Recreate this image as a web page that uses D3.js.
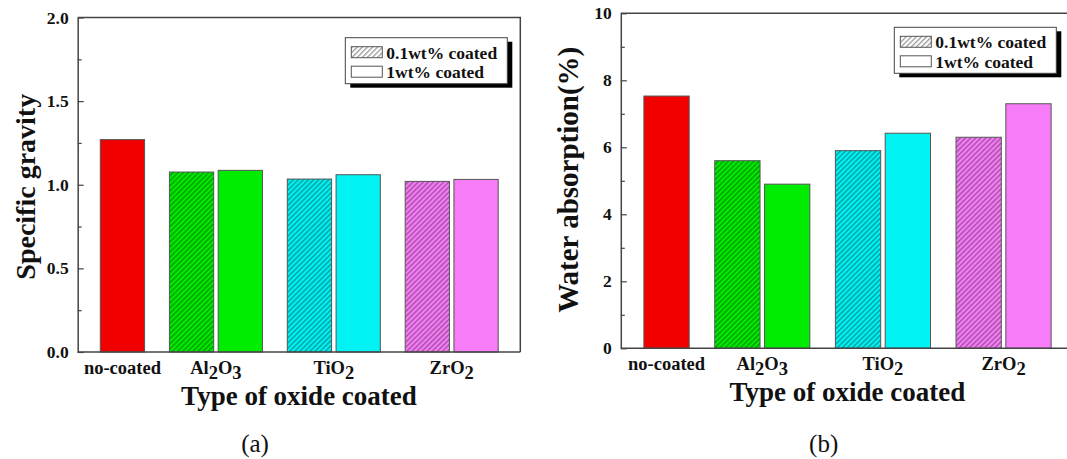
<!DOCTYPE html>
<html>
<head>
<meta charset="utf-8">
<script src="https://cdn.jsdelivr.net/npm/d3@7"></script>
<style>
  body { margin: 0; background: #fff; }
  text { font-family: "Liberation Serif", "Times New Roman", serif; }
</style>
</head>
<body>
<svg id="fig" width="1067" height="459"></svg>
<script>
// x categories (digits become subscripts)
const categories = ['no-coated', 'Al2O3', 'TiO2', 'ZrO2'];
const seriesNames = ['0.1wt% coated', '1wt% coated'];

// (a) specific gravity; the uncoated sample sits in the plain series
const gravity01wt = [null, 1.076, 1.034, 1.02];
const gravity1wt = [1.27, 1.086, 1.06, 1.032];
const gravityTicks = [0, 0.5, 1.0, 1.5, 2.0];

// (b) water absorption (%)
const absorption01wt = [null, 5.60, 5.90, 6.30];
const absorption1wt = [7.53, 4.90, 6.42, 7.30];
const absorptionTicks = [0, 2, 4, 6, 8, 10];

const colours = ['#f20000', '#00ec00', '#00f2f2', '#f77cf7'];

const svg = d3.select('#fig');
const defs = svg.append('defs');

// hatch patterns: one per category colour, plus the grey legend one
function hatch(id, bg, line) {
  const p = defs.append('pattern')
    .attr('id', id)
    .attr('patternUnits', 'userSpaceOnUse')
    .attr('width', 3.6).attr('height', 3.6)
    .attr('patternTransform', 'rotate(45)');
  p.append('rect').attr('width', 3.6).attr('height', 3.6).attr('fill', bg);
  p.append('line')
    .attr('x1', 0.7).attr('x2', 0.7).attr('y1', 0).attr('y2', 3.6)
    .attr('stroke', line).attr('stroke-width', 1.1);
}
colours.forEach((c, i) => hatch('hatch-' + i, c, d3.color(c).darker(1.6)));
hatch('hatch-legend', '#fff', '#888');

// write "Al2O3" style labels with subscript digits
function chemLabel(sel, label) {
  const parts = label.split(/(\d+)/).filter(s => s.length);
  let down = false;
  parts.forEach(p => {
    const isNum = /^\d+$/.test(p);
    const t = sel.append('tspan').text(p);
    if (isNum && !down) { t.attr('dy', 5); down = true; }
    else if (!isNum && down) { t.attr('dy', -5); down = false; }
  });
}

function drawPanel(cfg) {
  const g = svg.append('g')
    .attr('transform', `translate(${cfg.left},${cfg.top})`);

  const y = d3.scaleLinear().domain([0, cfg.yMax]).range([cfg.height, 0]);
  const x = d3.scalePoint().domain(categories)
    .range([cfg.width * 0.046, cfg.width * 0.845]);
  const bw = cfg.width * 0.1, gap = 4.5;

  // grouped bars: series 0 left of the category centre, series 1 right
  const bars = [];
  categories.forEach((c, i) => {
    [cfg.low[i], cfg.high[i]].forEach((v, s) => {
      if (v == null) return;
      const off = s === 0 ? -bw - gap / 2 : gap / 2;
      bars.push({cat: c, i, s, value: v, x0: x(c) + off});
    });
  });

  g.selectAll('rect.bar')
    .data(bars)
    .enter().append('rect')
      .attr('class', 'bar')
      .attr('x', d => d.x0)
      .attr('width', bw)
      .attr('y', d => y(d.value))
      .attr('height', d => y(0) - y(d.value))
      .attr('fill', d => d.s === 0 ? `url(#hatch-${d.i})` : colours[d.i])
      .attr('stroke', '#555')
      .attr('stroke-width', 1);

  // frame: top line and (if inside the picture) right line
  g.append('path')
    .attr('d', cfg.openRight
      ? `M0,0H${cfg.width}`
      : `M0,0H${cfg.width}V${cfg.height}`)
    .attr('fill', 'none')
    .attr('stroke', '#444')
    .attr('stroke-width', 1.5);

  // minor ticks, inward
  const minor = cfg.ticks.slice(0, -1).map((t, k) => (t + cfg.ticks[k + 1]) / 2);
  g.append('g')
    .call(d3.axisLeft(y).tickValues(minor).tickSize(-4).tickSizeOuter(0).tickFormat(''))
    .call(a => a.select('.domain').remove())
    .selectAll('line').attr('stroke', '#444').attr('stroke-width', 1.2);

  // major ticks + labels
  const yAxis = g.append('g')
    .call(d3.axisLeft(y).tickValues(cfg.ticks).tickSize(-6).tickSizeOuter(0)
      .tickPadding(9).tickFormat(cfg.fmt));
  yAxis.select('.domain').attr('stroke', '#444').attr('stroke-width', 1.5);
  yAxis.selectAll('line').attr('stroke', '#444').attr('stroke-width', 1.2);
  yAxis.selectAll('text')
    .attr('font-family', '"Liberation Serif", serif')
    .attr('font-weight', 'bold')
    .attr('font-size', 17.5)
    .attr('fill', '#111');

  // x axis line
  g.append('g')
    .attr('transform', `translate(0,${cfg.height})`)
    .call(d3.axisBottom(x).tickValues([]).tickSizeOuter(0))
    .select('.domain')
      .attr('d', `M0,0H${cfg.width}`)
      .attr('stroke', '#444').attr('stroke-width', 1.5);

  // category labels sit under the bars they name
  const labelX = categories.map(c => d3.mean(bars.filter(b => b.cat === c), b => b.x0 + bw / 2));
  g.selectAll('text.cat')
    .data(categories)
    .enter().append('text')
      .attr('class', 'cat')
      .attr('x', (d, i) => labelX[i])
      .attr('y', cfg.height + 22)
      .attr('text-anchor', 'middle')
      .attr('font-weight', 'bold')
      .attr('font-size', 18.5)
      .attr('fill', '#111')
      .each(function(d) { chemLabel(d3.select(this), d); });

  // axis titles
  g.append('text')
    .attr('x', cfg.width / 2)
    .attr('y', cfg.height + 53)
    .attr('text-anchor', 'middle')
    .attr('font-weight', 'bold')
    .attr('font-size', 27)
    .attr('fill', '#111')
    .text('Type of oxide coated');

  g.append('text')
    .attr('transform', `translate(${cfg.yTitleX},${cfg.height / 2 + cfg.yTitleDy}) rotate(-90)`)
    .attr('text-anchor', 'middle')
    .attr('font-weight', 'bold')
    .attr('font-size', cfg.yTitleSize)
    .attr('fill', '#111')
    .text(cfg.yTitle);

  // legend with drop shadow
  const lg = g.append('g').attr('transform', `translate(${cfg.legendX},${cfg.legendY})`);
  const lw = 162, lh = 46;
  lg.append('rect').attr('x', 5).attr('y', 4).attr('width', lw).attr('height', lh).attr('fill', '#000');
  lg.append('rect').attr('width', lw).attr('height', lh)
    .attr('fill', '#fff').attr('stroke', '#444').attr('stroke-width', 1);
  seriesNames.forEach((name, k) => {
    lg.append('rect')
      .attr('x', 6).attr('y', 9 + k * 19.5)
      .attr('width', 31).attr('height', 11)
      .attr('fill', k === 0 ? 'url(#hatch-legend)' : '#fff')
      .attr('stroke', '#555').attr('stroke-width', 1);
    lg.append('text')
      .attr('x', 41).attr('y', 21 + k * 19.5)
      .attr('font-weight', 'bold')
      .attr('font-size', 17.5)
      .attr('fill', '#111')
      .text(name);
  });

  // panel letter
  svg.append('text')
    .attr('x', cfg.letterX).attr('y', 452)
    .attr('text-anchor', 'middle')
    .attr('font-size', 25)
    .attr('fill', '#111')
    .text(cfg.letter);
}

drawPanel({
  left: 77.7, top: 17.5, width: 442.6, height: 334.5,
  yMax: 2.0, ticks: gravityTicks, fmt: d3.format('.1f'),
  low: gravity01wt, high: gravity1wt,
  yTitle: 'Specific gravity', yTitleX: -42.7, yTitleDy: 2, yTitleSize: 28,
  legendX: 267.6, legendY: 20.2,
  letter: '(a)', letterX: 255
});

drawPanel({
  left: 620.8, top: 13.3, width: 453, height: 335,
  yMax: 10, ticks: absorptionTicks, fmt: d3.format('d'),
  low: absorption01wt, high: absorption1wt, openRight: true,
  yTitle: 'Water absorption(%)', yTitleX: -42.8, yTitleDy: -1, yTitleSize: 29,
  legendX: 273.5, legendY: 14,
  letter: '(b)', letterX: 823.7
});
</script>
</body>
</html>
